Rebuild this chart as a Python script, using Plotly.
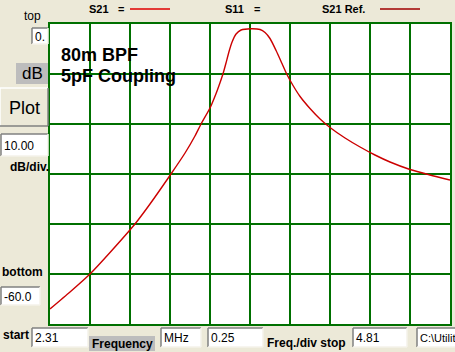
import plotly.graph_objects as go

# ---- data ----
freq_mhz = [2.310, 2.435, 2.560, 2.685, 2.841, 2.935, 3.066, 3.154, 3.216, 3.254,
            3.310, 3.348, 3.373, 3.391, 3.410, 3.429, 3.448, 3.473, 3.504, 3.566,
            3.623, 3.654, 3.685, 3.723, 3.760, 3.791, 3.829, 3.873, 3.935, 3.998,
            4.060, 4.154, 4.248, 4.341, 4.435, 4.560, 4.685, 4.810]
s21_db = [-57.0, -53.6, -50.0, -45.7, -40.0, -36.0, -30.0, -25.8, -22.4, -20.0,
          -16.8, -13.9, -11.7, -10.0, -7.8, -5.5, -3.6, -2.0, -1.2, -0.95,
          -1.1, -1.7, -2.9, -5.3, -7.9, -10.1, -12.3, -14.5, -16.9, -19.0,
          -20.7, -22.8, -24.6, -26.2, -27.6, -29.1, -30.2, -31.2]

f_start, f_stop, f_div = 2.31, 4.81, 0.25
db_top, db_bottom, db_div = 0.0, -60.0, 10.0
title_lines = ["80m BPF", "5pF Coupling"]

W, H = 455, 352
BG = "#ECE9D8"
GRID = "#007000"
FONT = "Liberation Sans"

def X(px):
    return px / W

def Y(py):
    return 1 - py / H

fig = go.Figure()
fig.add_trace(go.Scatter(x=freq_mhz, y=s21_db, mode="lines",
                         line=dict(color="#CC0000", width=1.4, shape="spline", smoothing=0.6),
                         hoverinfo="skip", showlegend=False))

fig.update_layout(
    width=W, height=H, margin=dict(l=0, r=0, t=0, b=0),
    paper_bgcolor=BG, plot_bgcolor="white", showlegend=False,
    xaxis=dict(domain=[X(50), X(450)], range=[f_start, f_stop], tick0=f_start, dtick=f_div,
               showgrid=True, gridcolor=GRID, gridwidth=1.5, showticklabels=False, ticks="",
               zeroline=False, showline=True, linecolor=GRID, linewidth=1.5, mirror=True),
    yaxis=dict(domain=[Y(324), Y(24)], range=[db_bottom, db_top], tick0=db_bottom, dtick=db_div,
               showgrid=True, gridcolor=GRID, gridwidth=1.5, showticklabels=False, ticks="",
               zeroline=False, showline=True, linecolor=GRID, linewidth=1.5, mirror=True),
)

shapes = []
annos = []

def text(px, py, s, size=12, bold=False, color="black", anchor="left"):
    annos.append(dict(x=X(px), y=Y(py), xref="paper", yref="paper", text=("<b>%s</b>" % s) if bold else s,
                      showarrow=False, xanchor=anchor, yanchor="middle",
                      font=dict(family=FONT, size=size, color=color)))

def sunken_box(x0, y0, x1, y1, s, size=12):
    shapes.append(dict(type="rect", xref="paper", yref="paper", x0=X(x0), x1=X(x1), y0=Y(y1), y1=Y(y0),
                       fillcolor="white", line=dict(width=0)))
    for (a, b, c, d, col) in [(x0, y0, x1, y0, "#808080"), (x0, y0, x0, y1, "#808080"),
                              (x0, y1, x1, y1, "#F4F2EA"), (x1, y0, x1, y1, "#F4F2EA")]:
        shapes.append(dict(type="line", xref="paper", yref="paper", x0=X(a), x1=X(c), y0=Y(b), y1=Y(d),
                           line=dict(color=col, width=1.5)))
    text(x0 + 1, (y0 + y1) / 2 + 0.5, s, size=size)

def gray_label(x0, y0, x1, y1, s, size, bold):
    shapes.append(dict(type="rect", xref="paper", yref="paper", x0=X(x0), x1=X(x1), y0=Y(y1), y1=Y(y0),
                       fillcolor="#BDBDBD", line=dict(width=0)))
    text((x0 + x1) / 2, (y0 + y1) / 2, s, size=size, bold=bold, anchor="center")

# legend row
text(87, 9, "S21", 11, True)
text(116, 9, "=", 11, True)
shapes.append(dict(type="line", xref="paper", yref="paper", x0=X(130), x1=X(170), y0=Y(9), y1=Y(9),
                   line=dict(color="#E00000", width=1.5)))
text(223, 9, "S11", 11, True)
text(252, 9, "=", 11, True)
text(320, 9, "S21 Ref.", 11, True)
shapes.append(dict(type="line", xref="paper", yref="paper", x0=X(380), x1=X(420), y0=Y(9), y1=Y(9),
                   line=dict(color="#A00000", width=1.5)))

# left panel
text(22, 16, "top", 12)
sunken_box(32, 28, 48, 44, "0.")
gray_label(16, 63, 48, 84, "dB", 17, False)
# Plot button (raised)
shapes.append(dict(type="rect", xref="paper", yref="paper", x0=X(0), x1=X(48), y0=Y(126), y1=Y(88),
                   fillcolor=BG, line=dict(width=0)))
for (a, b, c, d, col) in [(0, 88, 48, 88, "white"), (0, 88, 0, 126, "white"),
                          (0, 126, 48, 126, "#808080"), (48, 88, 48, 126, "#808080")]:
    shapes.append(dict(type="line", xref="paper", yref="paper", x0=X(a), x1=X(c), y0=Y(b), y1=Y(d),
                       line=dict(color=col, width=1.5)))
text(24, 108, "Plot", 18, anchor="center")
sunken_box(1, 134, 48, 156, "10.00")
text(8, 167, "dB/div.", 12, True)
text(0, 272, "bottom", 12, True)
sunken_box(1, 287, 40, 305, "-60.0")

# bottom row
text(1, 335, "start", 12, True)
sunken_box(32, 328, 88, 347, "%.2f" % f_start)
gray_label(89, 336, 155, 351, "Frequency", 12, True)
sunken_box(161, 328, 201, 347, "MHz")
sunken_box(208, 328, 263, 347, "%.2f" % f_div)
text(265, 343, "Freq./div stop", 12, True)
sunken_box(353, 328, 407, 347, "%.2f" % f_stop)
sunken_box(417, 328, 458, 347, "C:\\Utilit", size=11)

# chart title inside plot
text(59, 55, title_lines[0], 18, True)
text(59, 76, title_lines[1], 18, True)

fig.update_layout(shapes=shapes, annotations=annos)
fig.write_html("out.html")
